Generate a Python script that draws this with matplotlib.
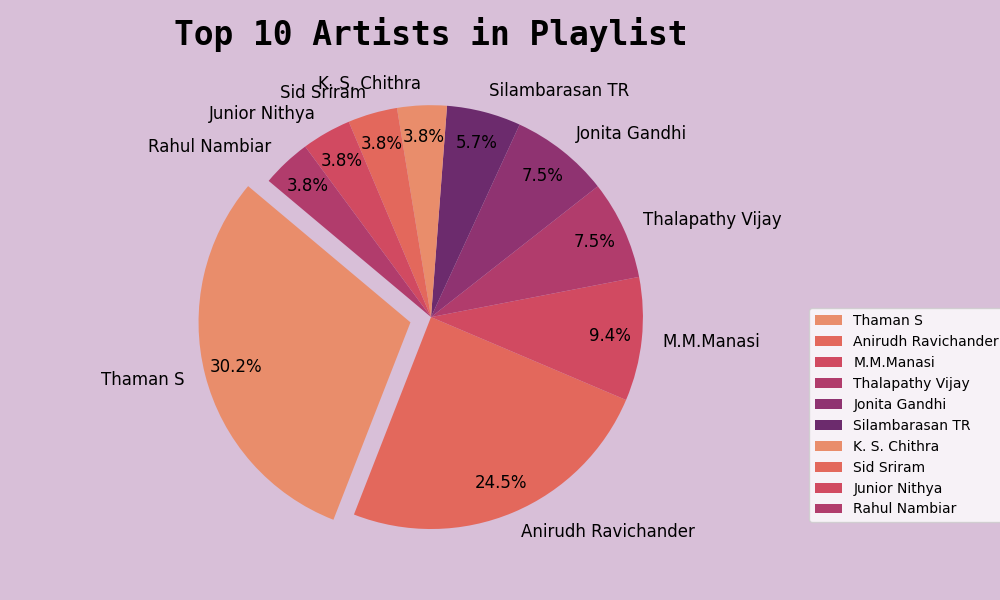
import matplotlib
matplotlib.use("Agg")
import matplotlib.pyplot as plt
import seaborn as sns

# Data
artists = ["Thaman S", "Anirudh Ravichander", "M.M.Manasi", "Thalapathy Vijay",
           "Jonita Gandhi", "Silambarasan TR", "K. S. Chithra", "Sid Sriram",
           "Junior Nithya", "Rahul Nambiar"]
song_counts = [16, 13, 5, 4, 4, 3, 2, 2, 2, 2]
explode = [0.1, 0, 0, 0, 0, 0, 0, 0, 0, 0]

colors = sns.color_palette("flare", 6)

fig = plt.figure(figsize=(10, 6), dpi=100)
fig.patch.set_facecolor("#D8BFD8")
ax = fig.add_axes([0.166, 0.03, 0.53, 0.883])

ax.pie(song_counts, labels=artists, autopct="%1.1f%%", startangle=140,
       colors=colors, explode=explode, pctdistance=0.85,
       textprops={"fontsize": 12})
ax.set_aspect("equal")

ax.set_title("Top 10 Artists in Playlist", fontsize=23.7, fontweight="bold",
             family="DejaVu Sans Mono", pad=5)

fig.legend(artists, loc="center left", bbox_to_anchor=(0.802, 0.308),
           fontsize=10)

plt.savefig("out.png", dpi=100, facecolor=fig.get_facecolor())
